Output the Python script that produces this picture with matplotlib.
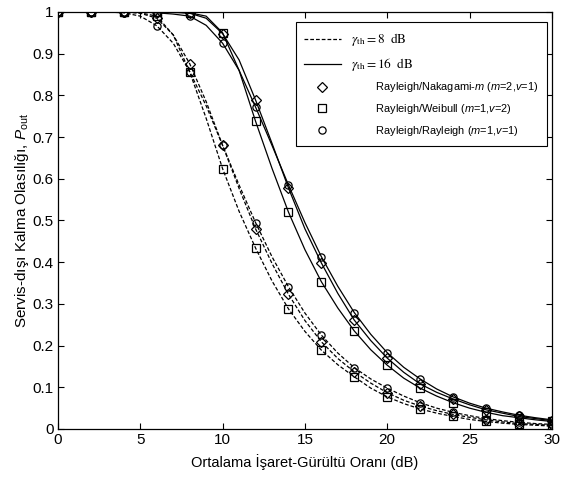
import numpy as np
import matplotlib
matplotlib.use("Agg")
import matplotlib.pyplot as plt
from matplotlib.lines import Line2D

# ── Data ──────────────────────────────────────────────────────────────────────

snr_db = np.arange(0, 31)

# gamma_th = 8 dB (dashed)
rr_8 = [1, 1, 1, 1, 0.998, 0.99, 0.967, 0.925, 0.857, 0.775, 0.68,
        0.585, 0.495, 0.413, 0.341, 0.278, 0.225, 0.182, 0.147, 0.12, 0.098,
        0.079, 0.063, 0.05, 0.04, 0.032, 0.025, 0.02, 0.016, 0.013, 0.011]
nak_8 = [1, 1, 1, 1, 1, 0.997, 0.985, 0.945, 0.876, 0.785, 0.68,
         0.577, 0.48, 0.397, 0.323, 0.26, 0.209, 0.169, 0.137, 0.11, 0.087,
         0.069, 0.055, 0.044, 0.035, 0.028, 0.022, 0.017, 0.013, 0.011, 0.009]
wei_8 = [1, 1, 1, 1, 1, 0.998, 0.99, 0.945, 0.856, 0.745, 0.624,
         0.522, 0.434, 0.355, 0.288, 0.234, 0.189, 0.154, 0.125, 0.098, 0.077,
         0.061, 0.048, 0.038, 0.03, 0.023, 0.018, 0.014, 0.011, 0.009, 0.007]

# gamma_th = 16 dB (solid)
rr_16 = [1, 1, 1, 1, 1, 1, 0.998, 0.995, 0.99, 0.968, 0.925,
         0.86, 0.772, 0.68, 0.585, 0.495, 0.413, 0.342, 0.279, 0.227, 0.183,
         0.148, 0.12, 0.096, 0.077, 0.062, 0.05, 0.041, 0.033, 0.027, 0.022]
nak_16 = [1, 1, 1, 1, 1, 1, 1, 0.999, 0.997, 0.985, 0.948,
          0.885, 0.789, 0.685, 0.578, 0.48, 0.398, 0.325, 0.261, 0.212, 0.17,
          0.136, 0.108, 0.088, 0.072, 0.058, 0.046, 0.038, 0.03, 0.025, 0.02]
wei_16 = [1, 1, 1, 1, 1, 1, 1, 1, 0.998, 0.99, 0.95,
          0.86, 0.738, 0.625, 0.52, 0.43, 0.353, 0.29, 0.235, 0.19, 0.153,
          0.122, 0.098, 0.079, 0.063, 0.05, 0.04, 0.032, 0.027, 0.022, 0.018]

x_ticks = [0, 5, 10, 15, 20, 25, 30]
y_ticks = [0, 0.1, 0.2, 0.3, 0.4, 0.5, 0.6, 0.7, 0.8, 0.9, 1]
y_tick_labels = ["0", "0.1", "0.2", "0.3", "0.4", "0.5", "0.6", "0.7", "0.8", "0.9", "1"]

# ── Style ─────────────────────────────────────────────────────────────────────

plt.rcParams["font.family"] = ["Liberation Sans", "DejaVu Sans"]
plt.rcParams["mathtext.fontset"] = "custom"
plt.rcParams["mathtext.rm"] = "Liberation Sans"
plt.rcParams["mathtext.it"] = "Liberation Sans:italic"

fig = plt.figure(figsize=(5.66, 4.79), dpi=100)
ax = fig.add_axes([0.1025, 0.1044, 0.8725, 0.8706])

MS = {"D": 5.0, "s": 5.2, "o": 5.2}
mk = dict(markerfacecolor="none", markeredgecolor="black",
          markeredgewidth=0.9, markevery=2, color="black", linewidth=0.9)
dash = (0, (3, 1.6))

for series, m in [(nak_8, "D"), (wei_8, "s"), (rr_8, "o")]:
    ax.plot(snr_db, series, linestyle=dash, marker=m, markersize=MS[m], **mk)
for series, m in [(nak_16, "D"), (wei_16, "s"), (rr_16, "o")]:
    ax.plot(snr_db, series, linestyle="-", marker=m, markersize=MS[m], **mk)

ax.set_xlim(0, 30)
ax.set_ylim(0, 1)
ax.set_xticks(x_ticks)
ax.set_yticks(y_ticks)
ax.set_yticklabels(y_tick_labels)
ax.tick_params(direction="in", top=True, right=True, labelsize=11, length=4,
               width=0.8, pad=3)
for s in ax.spines.values():
    s.set_linewidth(0.9)

ax.set_xlabel("Ortalama İşaret-Gürültü Oranı (dB)", fontsize=10.5, labelpad=5)
ax.set_ylabel(r"Servis-dışı Kalma Olasılığı, $P_{\mathrm{out}}$", fontsize=11,
              labelpad=1)

# ── Legend ────────────────────────────────────────────────────────────────────

def marker_handle(m):
    return Line2D([], [], color="black", linestyle="none", marker=m,
                  markersize=MS[m], markerfacecolor="none", markeredgewidth=0.9)

handles = [
    Line2D([], [], color="black", linestyle=dash, linewidth=0.9),
    Line2D([], [], color="black", linestyle="-", linewidth=0.9),
    marker_handle("D"),
    marker_handle("s"),
    marker_handle("o"),
]
pad = "        "
labels = [
    r"$\gamma_{\rm th} = 8\ \ \rm dB$",
    r"$\gamma_{\rm th} = 16\ \ \rm dB$",
    pad + r"Rayleigh/Nakagami-$m$ ($m$=2,$v$=1)",
    pad + r"Rayleigh/Weibull ($m$=1,$v$=2)",
    pad + r"Rayleigh/Rayleigh ($m$=1,$v$=1)",
]
leg = ax.legend(handles, labels, loc="upper right", fontsize=7.9,
                frameon=True, fancybox=False, edgecolor="black",
                framealpha=1, handlelength=3.3, labelspacing=0.72,
                borderpad=0.75, handletextpad=1.0, borderaxespad=0,
                bbox_to_anchor=(0.99, 0.975))
leg.get_frame().set_linewidth(0.8)
for t in leg.get_texts()[:2]:
    t.set_family("Liberation Serif")
    t.set_math_fontfamily("stix")
    t.set_fontsize(9.5)

fig.savefig("out.png", dpi=100)
